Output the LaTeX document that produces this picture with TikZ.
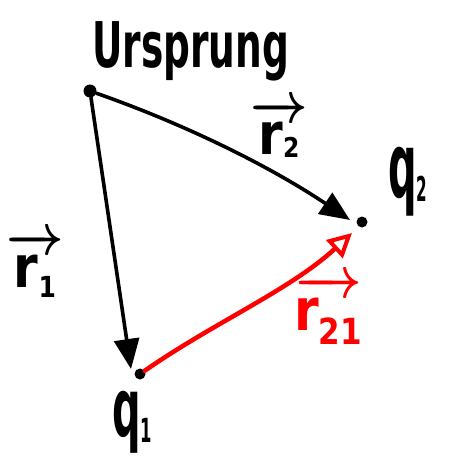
\documentclass[tikz,border=0pt]{standalone}
\usepackage{fontspec}
\setmainfont{DejaVu Sans}
\usepackage{amsmath}
\usetikzlibrary{arrows.meta}
\newcommand{\vlab}[5]{\scalebox{#1}[#2]{\boldmath$\overrightarrow{\mbox{\bfseries r\raisebox{#5}{\fontsize{#4}{#4}\selectfont #3}}}$}}
\newcommand{\qlab}[5]{\scalebox{#1}[#2]{\bfseries q\raisebox{#5}{\fontsize{#4}{#4}\selectfont #3}}}
\tikzset{
  lab/.style={inner sep=0pt, anchor=base west},
  bigdot/.style={circle, fill=black, inner sep=0pt, minimum size=13pt},
  smalldot/.style={circle, fill=black, inner sep=0pt, minimum size=11pt},
  vecline/.style={line width=3.6pt, line cap=round, -{Triangle[length=30pt,width=25pt]}},
  redline/.style={line width=4.5pt, line cap=round, red, -{Triangle[open,length=24pt,width=24pt,line width=4pt]}},
}
\begin{document}
\begin{tikzpicture}[x=1pt,y=-1pt]
\useasboundingbox (0,0) rectangle (448,457);
% points
\node[bigdot] (O) at (90,91) {};
\node[smalldot] (Q2) at (362,222) {};
\node[smalldot] (Q1) at (140,374) {};
\coordinate (t2) at (350,220);
\coordinate (t1) at (131,369);
\coordinate (t21) at (352,233);
% connectors
\draw[vecline] (O) .. controls (187,125) and (271,167) .. (t2);
\draw[vecline] (O) -- (t1);
\draw[redline] (Q1) .. controls (215,322) and (290,290) .. (t21);
% labels
\node[lab] (urs) at (92,68) {\scalebox{3.75}[6.3]{\bfseries Ursprung}};
\node[lab] (r2) at (250,155) {\vlab{5}{5.8}{2}{4.7}{-0.5pt}};
\node[lab] (r1) at (6,287) {\vlab{5}{5.8}{1}{5}{-1.8pt}};
\node[lab, text=red] (r21) at (294,330) {\vlab{5}{5.8}{21}{6.2}{-2.5pt}};
\node[lab] (q2) at (388,197) {\qlab{4}{9}{2}{3.8}{-0.55pt}};
\node[lab] (q1) at (112,436) {\qlab{4}{8.1}{1}{4.1}{-0.75pt}};
\end{tikzpicture}
\end{document}
